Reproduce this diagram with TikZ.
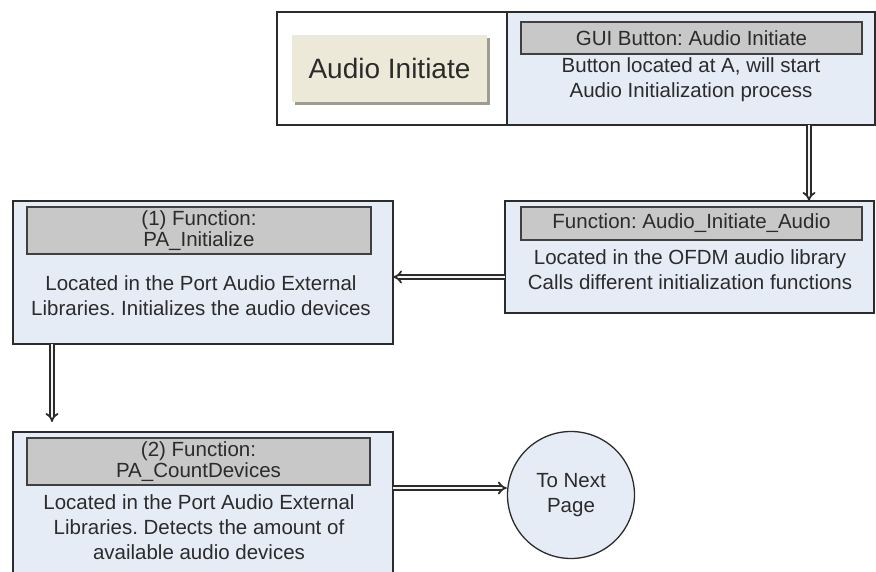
\documentclass[tikz,border=0pt]{standalone}
\usepackage{fontspec}
\setmainfont{Liberation Sans}
\usetikzlibrary{arrows.meta,calc}
\definecolor{boxblue}{HTML}{E6ECF6}
\definecolor{titlegray}{HTML}{C8C8C8}
\definecolor{ink}{HTML}{2B2B2B}
\definecolor{beige}{HTML}{ECE9D8}
\definecolor{bshadow}{HTML}{9E9C8C}
\begin{document}
\frenchspacing
\begin{tikzpicture}[x=1pt,y=-1pt,
  panel/.style={draw=ink, line width=2.4pt, fill=boxblue, anchor=north west, inner sep=0pt, outer sep=0pt},
  ttl/.style={draw=ink!90, line width=1.6pt, fill=titlegray, inner sep=0pt, text=ink, align=center, font=\fontsize{20.5}{21}\selectfont},
  body/.style={text=ink, align=center, font=\fontsize{20.5}{25}\selectfont, inner sep=0pt},
  flow/.style={draw=ink, line width=1.8pt, double=white!92!gray, double distance=2.4pt, -{Implies}},
]
\useasboundingbox (0,0) rectangle (876,572);
\clip (0,0) rectangle (876,572);
\fill[white] (0,0) rectangle (876,572);

% top box
\node[panel, fill=white, minimum width=230pt, minimum height=113pt] (topL) at (277,12) {};
\node[panel, minimum width=368pt, minimum height=113pt] (topR) at (507,12) {};
\fill[bshadow] (295,38) rectangle (490,105);
\node[fill=beige, minimum width=195pt, minimum height=67pt, inner sep=0pt, text=ink, font=\fontsize{28}{30}\selectfont] (btn) at (389.5,68.5) {Audio Initiate};
\node[ttl, minimum width=341pt, minimum height=32pt] (topT) at (691.5,38) {GUI Button: Audio Initiate};
\node[body] (topB) at (691,80) {Button located at A, will start\\Audio Initialization process};

% function box
\node[panel, minimum width=369pt, minimum height=112pt] (F) at (505,201) {};
\node[ttl, minimum width=341pt, minimum height=33pt] (FT) at (691.5,223.5) {Function: Audio\_Initiate\_Audio};
\node[body] (FB) at (690,270) {Located in the OFDM audio library\\Calls different initialization functions};

% PA_Initialize
\node[panel, minimum width=380pt, minimum height=143pt] (P1) at (13,201) {};
\node[ttl, minimum width=344pt, minimum height=47pt] (P1T) at (199,230.5) {(1) Function:\\PA\_Initialize};
\node[body] (P1B) at (201,296) {Located in the Port Audio External\\Libraries. Initializes the audio devices};

% PA_CountDevices
\node[panel, minimum width=380pt, minimum height=170pt] (P2) at (13,432) {};
\node[ttl, minimum width=343pt, minimum height=47pt] (P2T) at (198.5,461.5) {(2) Function:\\PA\_CountDevices};
\node[body] (P2B) at (199,527) {Located in the Port Audio External\\Libraries. Detects the amount of\\available audio devices};

% connector circle
\node[circle, draw=ink, line width=1.3pt, fill=boxblue, minimum size=127pt, inner sep=0pt, body] (circ) at (571,495) {To Next\\Page};

% arrows
\draw[flow] ($(topR.south east)+(-66,0)$) -- ($(F.north east)+(-65,0)$);
\draw[flow] ($(F.north west)+(0,76)$) -- ($(P1.north east)+(0,76)$);
\draw[flow, shorten >=10pt] ($(P1.south west)+(39,0)$) -- ($(P2.north west)+(39,0)$);
\draw[flow] ($(P2.north east)+(0,56)$) coordinate (s) -- (circ.west |- s);
\end{tikzpicture}
\end{document}
